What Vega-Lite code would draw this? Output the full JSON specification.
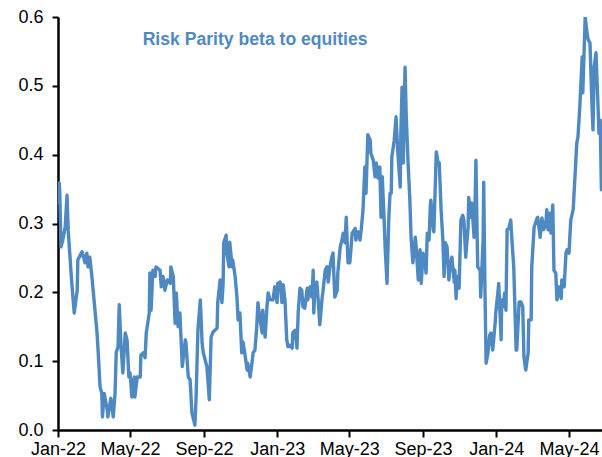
{
  "$schema": "https://vega.github.io/schema/vega-lite/v6.json",
  "width": 544,
  "height": 413,
  "autosize": {"type": "none"},
  "padding": {"left": 58, "top": 17, "right": 0, "bottom": 27},
  "background": "white",
  "config": {"view": {"stroke": null}, "font": "Liberation Sans"},
  "datasets": {
    "series": [
      {"d": "2022-01-02", "v": 0.33},
      {"d": "2022-01-03", "v": 0.359},
      {"d": "2022-01-04", "v": 0.344},
      {"d": "2022-01-06", "v": 0.266},
      {"d": "2022-01-09", "v": 0.276},
      {"d": "2022-01-13", "v": 0.295},
      {"d": "2022-01-16", "v": 0.341},
      {"d": "2022-01-18", "v": 0.29},
      {"d": "2022-01-21", "v": 0.251},
      {"d": "2022-01-24", "v": 0.213},
      {"d": "2022-01-28", "v": 0.17},
      {"d": "2022-02-02", "v": 0.203},
      {"d": "2022-02-03", "v": 0.247},
      {"d": "2022-02-10", "v": 0.259},
      {"d": "2022-02-15", "v": 0.243},
      {"d": "2022-02-18", "v": 0.257},
      {"d": "2022-02-20", "v": 0.237},
      {"d": "2022-02-23", "v": 0.251},
      {"d": "2022-02-27", "v": 0.218},
      {"d": "2022-02-28", "v": 0.208},
      {"d": "2022-03-04", "v": 0.17},
      {"d": "2022-03-07", "v": 0.141},
      {"d": "2022-03-09", "v": 0.112},
      {"d": "2022-03-12", "v": 0.063},
      {"d": "2022-03-15", "v": 0.053},
      {"d": "2022-03-16", "v": 0.019},
      {"d": "2022-03-19", "v": 0.053},
      {"d": "2022-03-24", "v": 0.029},
      {"d": "2022-03-25", "v": 0.019},
      {"d": "2022-03-30", "v": 0.046},
      {"d": "2022-04-03", "v": 0.019},
      {"d": "2022-04-06", "v": 0.053},
      {"d": "2022-04-08", "v": 0.113},
      {"d": "2022-04-11", "v": 0.121},
      {"d": "2022-04-13", "v": 0.182},
      {"d": "2022-04-16", "v": 0.121},
      {"d": "2022-04-19", "v": 0.083},
      {"d": "2022-04-23", "v": 0.141},
      {"d": "2022-04-26", "v": 0.131},
      {"d": "2022-04-29", "v": 0.077},
      {"d": "2022-05-01", "v": 0.083},
      {"d": "2022-05-04", "v": 0.048},
      {"d": "2022-05-08", "v": 0.077},
      {"d": "2022-05-09", "v": 0.048},
      {"d": "2022-05-13", "v": 0.077},
      {"d": "2022-05-18", "v": 0.077},
      {"d": "2022-05-19", "v": 0.109},
      {"d": "2022-05-23", "v": 0.112},
      {"d": "2022-05-26", "v": 0.105},
      {"d": "2022-05-28", "v": 0.141},
      {"d": "2022-06-02", "v": 0.17},
      {"d": "2022-06-03", "v": 0.228},
      {"d": "2022-06-05", "v": 0.174},
      {"d": "2022-06-08", "v": 0.232},
      {"d": "2022-06-12", "v": 0.223},
      {"d": "2022-06-13", "v": 0.237},
      {"d": "2022-06-20", "v": 0.232},
      {"d": "2022-06-22", "v": 0.208},
      {"d": "2022-06-25", "v": 0.223},
      {"d": "2022-06-28", "v": 0.203},
      {"d": "2022-07-02", "v": 0.218},
      {"d": "2022-07-07", "v": 0.213},
      {"d": "2022-07-08", "v": 0.237},
      {"d": "2022-07-12", "v": 0.223},
      {"d": "2022-07-15", "v": 0.155},
      {"d": "2022-07-17", "v": 0.199},
      {"d": "2022-07-20", "v": 0.15},
      {"d": "2022-07-23", "v": 0.17},
      {"d": "2022-07-27", "v": 0.092},
      {"d": "2022-08-01", "v": 0.131},
      {"d": "2022-08-02", "v": 0.128},
      {"d": "2022-08-06", "v": 0.077},
      {"d": "2022-08-09", "v": 0.073},
      {"d": "2022-08-12", "v": 0.025},
      {"d": "2022-08-17", "v": 0.007},
      {"d": "2022-08-19", "v": 0.048},
      {"d": "2022-08-22", "v": 0.145},
      {"d": "2022-08-26", "v": 0.189},
      {"d": "2022-08-29", "v": 0.126},
      {"d": "2022-08-31", "v": 0.112},
      {"d": "2022-09-03", "v": 0.102},
      {"d": "2022-09-06", "v": 0.092},
      {"d": "2022-09-10", "v": 0.044},
      {"d": "2022-09-13", "v": 0.135},
      {"d": "2022-09-16", "v": 0.142},
      {"d": "2022-09-23", "v": 0.148},
      {"d": "2022-09-24", "v": 0.185},
      {"d": "2022-09-28", "v": 0.218},
      {"d": "2022-10-01", "v": 0.185},
      {"d": "2022-10-03", "v": 0.213},
      {"d": "2022-10-04", "v": 0.272},
      {"d": "2022-10-08", "v": 0.283},
      {"d": "2022-10-09", "v": 0.257},
      {"d": "2022-10-13", "v": 0.237},
      {"d": "2022-10-14", "v": 0.273},
      {"d": "2022-10-18", "v": 0.237},
      {"d": "2022-10-19", "v": 0.247},
      {"d": "2022-10-23", "v": 0.223},
      {"d": "2022-10-26", "v": 0.193},
      {"d": "2022-10-28", "v": 0.16},
      {"d": "2022-10-31", "v": 0.17},
      {"d": "2022-11-03", "v": 0.112},
      {"d": "2022-11-05", "v": 0.128},
      {"d": "2022-11-08", "v": 0.112},
      {"d": "2022-11-12", "v": 0.087},
      {"d": "2022-11-13", "v": 0.097},
      {"d": "2022-11-17", "v": 0.077},
      {"d": "2022-11-20", "v": 0.097},
      {"d": "2022-11-22", "v": 0.112},
      {"d": "2022-11-25", "v": 0.116},
      {"d": "2022-11-28", "v": 0.15},
      {"d": "2022-11-30", "v": 0.185},
      {"d": "2022-12-03", "v": 0.164},
      {"d": "2022-12-07", "v": 0.141},
      {"d": "2022-12-08", "v": 0.174},
      {"d": "2022-12-12", "v": 0.135},
      {"d": "2022-12-15", "v": 0.179},
      {"d": "2022-12-17", "v": 0.199},
      {"d": "2022-12-20", "v": 0.189},
      {"d": "2022-12-25", "v": 0.189},
      {"d": "2022-12-28", "v": 0.208},
      {"d": "2023-01-01", "v": 0.185},
      {"d": "2023-01-02", "v": 0.213},
      {"d": "2023-01-06", "v": 0.215},
      {"d": "2023-01-09", "v": 0.185},
      {"d": "2023-01-11", "v": 0.211},
      {"d": "2023-01-14", "v": 0.189},
      {"d": "2023-01-17", "v": 0.131},
      {"d": "2023-01-19", "v": 0.121},
      {"d": "2023-01-22", "v": 0.123},
      {"d": "2023-01-26", "v": 0.119},
      {"d": "2023-01-27", "v": 0.141},
      {"d": "2023-01-31", "v": 0.145},
      {"d": "2023-02-03", "v": 0.119},
      {"d": "2023-02-05", "v": 0.17},
      {"d": "2023-02-08", "v": 0.206},
      {"d": "2023-02-11", "v": 0.203},
      {"d": "2023-02-13", "v": 0.179},
      {"d": "2023-02-16", "v": 0.177},
      {"d": "2023-02-20", "v": 0.206},
      {"d": "2023-02-21", "v": 0.189},
      {"d": "2023-02-25", "v": 0.208},
      {"d": "2023-02-28", "v": 0.193},
      {"d": "2023-03-02", "v": 0.232},
      {"d": "2023-03-03", "v": 0.17},
      {"d": "2023-03-05", "v": 0.208},
      {"d": "2023-03-08", "v": 0.215},
      {"d": "2023-03-10", "v": 0.193},
      {"d": "2023-03-13", "v": 0.153},
      {"d": "2023-03-17", "v": 0.193},
      {"d": "2023-03-18", "v": 0.199},
      {"d": "2023-03-22", "v": 0.232},
      {"d": "2023-03-25", "v": 0.237},
      {"d": "2023-03-27", "v": 0.215},
      {"d": "2023-03-30", "v": 0.237},
      {"d": "2023-04-02", "v": 0.251},
      {"d": "2023-04-04", "v": 0.257},
      {"d": "2023-04-07", "v": 0.193},
      {"d": "2023-04-11", "v": 0.203},
      {"d": "2023-04-12", "v": 0.228},
      {"d": "2023-04-16", "v": 0.266},
      {"d": "2023-04-19", "v": 0.276},
      {"d": "2023-04-21", "v": 0.286},
      {"d": "2023-04-24", "v": 0.272},
      {"d": "2023-04-26", "v": 0.309},
      {"d": "2023-04-29", "v": 0.243},
      {"d": "2023-05-02", "v": 0.243},
      {"d": "2023-05-06", "v": 0.286},
      {"d": "2023-05-11", "v": 0.293},
      {"d": "2023-05-12", "v": 0.276},
      {"d": "2023-05-16", "v": 0.288},
      {"d": "2023-05-19", "v": 0.276},
      {"d": "2023-05-21", "v": 0.291},
      {"d": "2023-05-24", "v": 0.32},
      {"d": "2023-05-27", "v": 0.382},
      {"d": "2023-05-29", "v": 0.344},
      {"d": "2023-06-01", "v": 0.429},
      {"d": "2023-06-05", "v": 0.421},
      {"d": "2023-06-06", "v": 0.402},
      {"d": "2023-06-10", "v": 0.392},
      {"d": "2023-06-13", "v": 0.368},
      {"d": "2023-06-15", "v": 0.388},
      {"d": "2023-06-18", "v": 0.366},
      {"d": "2023-06-21", "v": 0.382},
      {"d": "2023-06-23", "v": 0.309},
      {"d": "2023-06-25", "v": 0.368},
      {"d": "2023-06-28", "v": 0.309},
      {"d": "2023-06-30", "v": 0.262},
      {"d": "2023-07-03", "v": 0.213},
      {"d": "2023-07-06", "v": 0.309},
      {"d": "2023-07-08", "v": 0.344},
      {"d": "2023-07-10", "v": 0.344},
      {"d": "2023-07-11", "v": 0.397},
      {"d": "2023-07-15", "v": 0.421},
      {"d": "2023-07-18", "v": 0.455},
      {"d": "2023-07-21", "v": 0.402},
      {"d": "2023-07-25", "v": 0.353},
      {"d": "2023-07-26", "v": 0.431},
      {"d": "2023-07-28", "v": 0.498},
      {"d": "2023-07-30", "v": 0.388},
      {"d": "2023-08-02", "v": 0.527},
      {"d": "2023-08-04", "v": 0.455},
      {"d": "2023-08-07", "v": 0.388},
      {"d": "2023-08-10", "v": 0.334},
      {"d": "2023-08-12", "v": 0.28},
      {"d": "2023-08-15", "v": 0.243},
      {"d": "2023-08-19", "v": 0.28},
      {"d": "2023-08-20", "v": 0.272},
      {"d": "2023-08-24", "v": 0.218},
      {"d": "2023-08-27", "v": 0.262},
      {"d": "2023-08-29", "v": 0.213},
      {"d": "2023-09-01", "v": 0.257},
      {"d": "2023-09-04", "v": 0.247},
      {"d": "2023-09-06", "v": 0.228},
      {"d": "2023-09-08", "v": 0.286},
      {"d": "2023-09-11", "v": 0.276},
      {"d": "2023-09-13", "v": 0.324},
      {"d": "2023-09-14", "v": 0.334},
      {"d": "2023-09-18", "v": 0.291},
      {"d": "2023-09-19", "v": 0.288},
      {"d": "2023-09-23", "v": 0.404},
      {"d": "2023-09-26", "v": 0.389},
      {"d": "2023-09-28", "v": 0.388},
      {"d": "2023-10-01", "v": 0.32},
      {"d": "2023-10-04", "v": 0.276},
      {"d": "2023-10-06", "v": 0.223},
      {"d": "2023-10-08", "v": 0.272},
      {"d": "2023-10-11", "v": 0.266},
      {"d": "2023-10-14", "v": 0.218},
      {"d": "2023-10-16", "v": 0.237},
      {"d": "2023-10-19", "v": 0.251},
      {"d": "2023-10-23", "v": 0.215},
      {"d": "2023-10-24", "v": 0.232},
      {"d": "2023-10-26", "v": 0.191},
      {"d": "2023-10-28", "v": 0.223},
      {"d": "2023-10-31", "v": 0.206},
      {"d": "2023-11-03", "v": 0.305},
      {"d": "2023-11-06", "v": 0.312},
      {"d": "2023-11-08", "v": 0.305},
      {"d": "2023-11-11", "v": 0.251},
      {"d": "2023-11-15", "v": 0.295},
      {"d": "2023-11-16", "v": 0.338},
      {"d": "2023-11-20", "v": 0.309},
      {"d": "2023-11-21", "v": 0.33},
      {"d": "2023-11-25", "v": 0.28},
      {"d": "2023-11-26", "v": 0.301},
      {"d": "2023-11-28", "v": 0.392},
      {"d": "2023-12-01", "v": 0.237},
      {"d": "2023-12-05", "v": 0.232},
      {"d": "2023-12-06", "v": 0.193},
      {"d": "2023-12-10", "v": 0.276},
      {"d": "2023-12-11", "v": 0.36},
      {"d": "2023-12-13", "v": 0.208},
      {"d": "2023-12-15", "v": 0.097},
      {"d": "2023-12-18", "v": 0.112},
      {"d": "2023-12-21", "v": 0.138},
      {"d": "2023-12-23", "v": 0.141},
      {"d": "2023-12-26", "v": 0.116},
      {"d": "2023-12-30", "v": 0.155},
      {"d": "2023-12-31", "v": 0.17},
      {"d": "2024-01-04", "v": 0.203},
      {"d": "2024-01-05", "v": 0.213},
      {"d": "2024-01-09", "v": 0.131},
      {"d": "2024-01-10", "v": 0.189},
      {"d": "2024-01-12", "v": 0.179},
      {"d": "2024-01-15", "v": 0.199},
      {"d": "2024-01-17", "v": 0.174},
      {"d": "2024-01-19", "v": 0.291},
      {"d": "2024-01-22", "v": 0.293},
      {"d": "2024-01-25", "v": 0.305},
      {"d": "2024-01-27", "v": 0.276},
      {"d": "2024-01-30", "v": 0.237},
      {"d": "2024-02-03", "v": 0.116},
      {"d": "2024-02-04", "v": 0.116},
      {"d": "2024-02-08", "v": 0.186},
      {"d": "2024-02-11", "v": 0.186},
      {"d": "2024-02-14", "v": 0.179},
      {"d": "2024-02-16", "v": 0.106},
      {"d": "2024-02-19", "v": 0.087},
      {"d": "2024-02-23", "v": 0.112},
      {"d": "2024-02-24", "v": 0.16},
      {"d": "2024-02-28", "v": 0.16},
      {"d": "2024-02-29", "v": 0.237},
      {"d": "2024-03-04", "v": 0.295},
      {"d": "2024-03-09", "v": 0.308},
      {"d": "2024-03-10", "v": 0.309},
      {"d": "2024-03-14", "v": 0.28},
      {"d": "2024-03-17", "v": 0.308},
      {"d": "2024-03-20", "v": 0.291},
      {"d": "2024-03-24", "v": 0.305},
      {"d": "2024-03-25", "v": 0.32},
      {"d": "2024-03-27", "v": 0.291},
      {"d": "2024-03-30", "v": 0.315},
      {"d": "2024-04-01", "v": 0.286},
      {"d": "2024-04-04", "v": 0.327},
      {"d": "2024-04-06", "v": 0.232},
      {"d": "2024-04-09", "v": 0.228},
      {"d": "2024-04-11", "v": 0.189},
      {"d": "2024-04-14", "v": 0.208},
      {"d": "2024-04-18", "v": 0.191},
      {"d": "2024-04-19", "v": 0.218},
      {"d": "2024-04-23", "v": 0.208},
      {"d": "2024-04-26", "v": 0.257},
      {"d": "2024-04-28", "v": 0.262},
      {"d": "2024-05-01", "v": 0.257},
      {"d": "2024-05-04", "v": 0.305},
      {"d": "2024-05-08", "v": 0.32},
      {"d": "2024-05-11", "v": 0.368},
      {"d": "2024-05-14", "v": 0.417},
      {"d": "2024-05-16", "v": 0.426},
      {"d": "2024-05-19", "v": 0.469},
      {"d": "2024-05-23", "v": 0.542},
      {"d": "2024-05-24", "v": 0.49},
      {"d": "2024-05-28", "v": 0.6},
      {"d": "2024-05-31", "v": 0.577},
      {"d": "2024-06-02", "v": 0.567},
      {"d": "2024-06-05", "v": 0.562},
      {"d": "2024-06-08", "v": 0.479},
      {"d": "2024-06-10", "v": 0.436},
      {"d": "2024-06-12", "v": 0.527},
      {"d": "2024-06-15", "v": 0.548},
      {"d": "2024-06-18", "v": 0.479},
      {"d": "2024-06-20", "v": 0.431},
      {"d": "2024-06-22", "v": 0.45},
      {"d": "2024-06-24", "v": 0.349}
    ],
    "labels": [
      {"label": "Risk Parity beta to equities", "d": "2022-05-22", "v": 0.559}
    ]
  },
  "layer": [
    {
      "data": {"name": "series"},
      "mark": {"type": "line", "color": "#4f89c2", "strokeWidth": 3.4, "clip": true, "strokeJoin": "round", "strokeCap": "round"},
      "encoding": {
        "x": {
          "field": "d",
          "type": "temporal",
          "scale": {"domain": [{"year": 2022, "month": 1, "date": 1}, {"year": 2024, "month": 6, "date": 25}]},
          "axis": {
            "title": null,
            "grid": false,
            "values": [
              {"year": 2022, "month": 1, "date": 1},
              {"year": 2022, "month": 5, "date": 1},
              {"year": 2022, "month": 9, "date": 1},
              {"year": 2023, "month": 1, "date": 1},
              {"year": 2023, "month": 5, "date": 1},
              {"year": 2023, "month": 9, "date": 1},
              {"year": 2024, "month": 1, "date": 1},
              {"year": 2024, "month": 5, "date": 1}
            ],
            "format": "%b-%y",
            "labelFont": "Liberation Sans",
            "labelFontSize": 18,
            "labelColor": "black",
            "labelPadding": 3,
            "labelFlush": false,
            "labelOverlap": false,
            "domainColor": "black",
            "domainWidth": 2.5,
            "tickColor": "black",
            "tickWidth": 2,
            "tickSize": 7
          }
        },
        "y": {
          "field": "v",
          "type": "quantitative",
          "scale": {"domain": [0, 0.6], "nice": false, "zero": true},
          "axis": {
            "title": null,
            "grid": false,
            "values": [0, 0.1, 0.2, 0.3, 0.4, 0.5, 0.6],
            "format": ".1f",
            "labelFont": "Liberation Sans",
            "labelFontSize": 18,
            "labelColor": "black",
            "labelPadding": 9,
            "domainColor": "black",
            "domainWidth": 2.5,
            "tickColor": "black",
            "tickWidth": 2,
            "tickSize": 6
          }
        }
      }
    },
    {
      "data": {"name": "labels"},
      "mark": {
        "type": "text",
        "align": "left",
        "baseline": "alphabetic",
        "font": "Liberation Sans",
        "fontSize": 17.6,
        "fontWeight": "bold",
        "color": "#4f89c2"
      },
      "encoding": {
        "x": {"field": "d", "type": "temporal"},
        "y": {"field": "v", "type": "quantitative"},
        "text": {"field": "label"}
      }
    }
  ]
}
